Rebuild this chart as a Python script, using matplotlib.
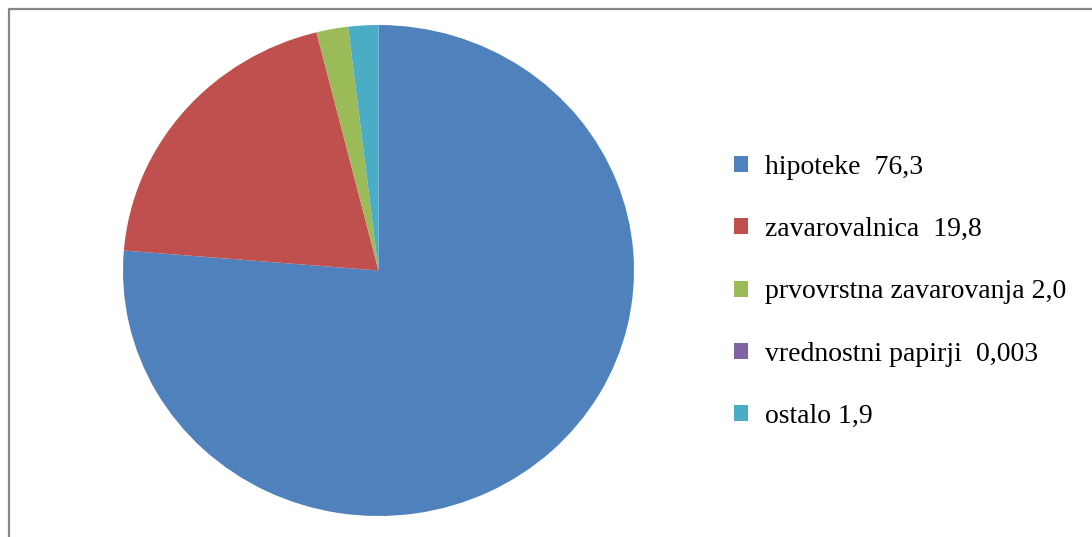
import matplotlib
matplotlib.use("Agg")
import matplotlib.pyplot as plt
from matplotlib.lines import Line2D

# ── 数据 ──
labels = ["hipoteke  76,3", "zavarovalnica  19,8", "prvovrstna zavarovanja 2,0",
          "vrednostni papirji  0,003", "ostalo 1,9"]
values = [76.3, 19.8, 2.0, 0.003, 1.9]
colors = ["#4F81BD", "#C0504D", "#9BBB59", "#8064A2", "#4BACC6"]

W, H = 1092, 537
fig = plt.figure(figsize=(W / 100, H / 100), dpi=100)
fig.patch.set_facecolor("white")

# 饼图区域 (像素 -> 比例)
x0, x1, ytop, ybot = 123, 634, 25, 516
ax = fig.add_axes([x0 / W, 1 - ybot / H, (x1 - x0) / W, (ybot - ytop) / H])
wedges, _ = ax.pie(values, colors=colors, startangle=90, counterclock=False,
                   wedgeprops={"linewidth": 0})
ax.set_aspect("auto")
ax.set_xlim(-1, 1)
ax.set_ylim(-1, 1)
ax.axis("off")

# 图例
fig.legend(wedges, labels, loc="center left", bbox_to_anchor=(734 / W, 1 - 292 / H),
           frameon=False, borderpad=0, borderaxespad=0,
           prop={"family": "Liberation Serif", "size": 20},
           handlelength=0.5, handleheight=0.5, handletextpad=0.62,
           labelspacing=1.34)

# 外框 (左/上)
px = lambda x, y: (x / W, 1 - y / H)
xs, ys = zip(px(8.5, H + 5), px(8.5, 9), px(W + 5, 9))
fig.add_artist(Line2D(xs, ys, transform=fig.transFigure, color="#868686", lw=1.6))

fig.savefig("out.png", dpi=100)
